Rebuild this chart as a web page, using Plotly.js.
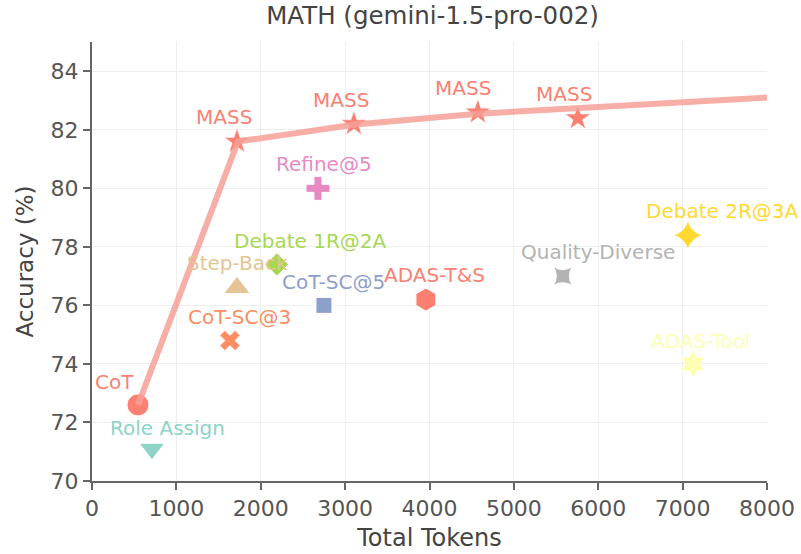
<!DOCTYPE html>
<html>
<head>
<meta charset="utf-8">
<script src="https://cdn.plot.ly/plotly-3.0.1.min.js"></script>
<style>html,body{margin:0;padding:0;background:#fff}#chart{width:801px;height:554px}</style>
</head>
<body>
<div id="chart"></div>
<script>
// Baseline methods
const methods = ["CoT","Role Assign","Step-Back","CoT-SC@3","Debate 1R@2A","CoT-SC@5","ADAS-T&S","Refine@5","Quality-Diverse","Debate 2R@3A","ADAS-Tool"];
const methodTokens = [545, 711, 1718, 1635, 2192, 2749, 3957, 2678, 5580, 7062, 7121];
const methodAcc = [72.6, 71.1, 76.6, 74.8, 77.4, 76.0, 76.2, 80.0, 77.0, 78.4, 74.0];
const methodColors = ["#fb8072","#8dd3c7","#e5c494","#fc8d62","#a6d854","#8da0cb","#fb8072","#e78ac3","#b3b3b3","#ffd92f","#ffffb3"];
const methodSymbols = ["circle","triangle-down","triangle-up","x","diamond","square","hexagon","cross","star-square","star-diamond","hexagram"];
const methodSizes = [22, 22, 23, 18, 18, 16, 23, 20, 17, 21, 21];

// MASS points
const massLabel = "MASS";
const massTokens = [1718, 3104, 4573, 5758];
const massAcc = [81.6, 82.2, 82.6, 82.4];
const massColor = "#fa8072";

// Frontier line
const frontierTokens = [545, 1730, 3120, 4000, 4573, 8000];
const frontierAcc = [72.6, 81.6, 82.18, 82.4, 82.55, 83.1];

// label offsets (px) [dx, dy up]
const methodOffsets = [[-23,23],[16,21],[1,25],[10,24],[34,23],[10,23],[9,25],[6,24],[35,24],[35,24],[8,23]];
const massOffsets = [[-13,25],[-13,24],[-15,24],[-14,24]];

const FONT = "DejaVu Sans, sans-serif";
const traces = [];
methods.forEach((m,i)=>{
  traces.push({
    x:[methodTokens[i]], y:[methodAcc[i]], type:"scatter", mode:"markers", name:m,
    marker:{symbol:methodSymbols[i], size:methodSizes[i], color:methodColors[i], line:{color:"#ffffff", width:1}},
    hoverinfo:"skip", showlegend:false
  });
});
traces.push({
  x:massTokens, y:massAcc, type:"scatter", mode:"markers", name:massLabel,
  marker:{symbol:"star", size:19, color:massColor, line:{color:"#ffffff", width:0.5}},
  showlegend:false
});
traces.push({
  x:frontierTokens, y:frontierAcc, type:"scatter", mode:"lines",
  line:{color:"rgba(245,160,150,0.85)", width:6}, showlegend:false, hoverinfo:"skip"
});

const annotations = [];
methods.forEach((m,i)=>{
  annotations.push({x:methodTokens[i], y:methodAcc[i], xref:"x", yref:"y", text:m, showarrow:false,
    xshift:methodOffsets[i][0], yshift:methodOffsets[i][1], font:{family:FONT, size:20, color:methodColors[i]}});
});
massTokens.forEach((t,i)=>{
  annotations.push({x:t, y:massAcc[i], xref:"x", yref:"y", text:massLabel, showarrow:false,
    xshift:massOffsets[i][0], yshift:massOffsets[i][1], font:{family:FONT, size:20, color:massColor}});
});

const layout = {
  width:801, height:554,
  margin:{l:92, r:34, t:42, b:73},
  paper_bgcolor:"#ffffff", plot_bgcolor:"#ffffff",
  font:{family:FONT, color:"#555555"},
  title:{text:"MATH (gemini-1.5-pro-002)", x:0.54, xanchor:"center", y:0.988, yanchor:"top", font:{family:FONT, size:24.5, color:"#444444"}},
  xaxis:{range:[0,8000], tickvals:[0,1000,2000,3000,4000,5000,6000,7000,8000],
    showgrid:true, gridcolor:"#eeeeee", gridwidth:1, zeroline:false,
    showline:true, linecolor:"#666666", linewidth:2, ticks:"outside", ticklen:7, tickwidth:2, tickcolor:"#666666",
    tickfont:{family:FONT, size:22, color:"#555555"},
    title:{text:"Total Tokens", font:{family:FONT, size:24, color:"#444444"}, standoff:9}},
  yaxis:{range:[70,85], tickvals:[70,72,74,76,78,80,82,84],
    showgrid:true, gridcolor:"#eeeeee", gridwidth:1, zeroline:false,
    showline:true, linecolor:"#666666", linewidth:2, ticks:"outside", ticklen:7, tickwidth:2, tickcolor:"#666666",
    tickfont:{family:FONT, size:22, color:"#555555"},
    title:{text:"Accuracy (%)", font:{family:FONT, size:23, color:"#444444"}, standoff:11}},
  annotations:annotations
};
Plotly.newPlot("chart", traces, layout, {displayModeBar:false, staticPlot:true});
</script>
</body>
</html>
